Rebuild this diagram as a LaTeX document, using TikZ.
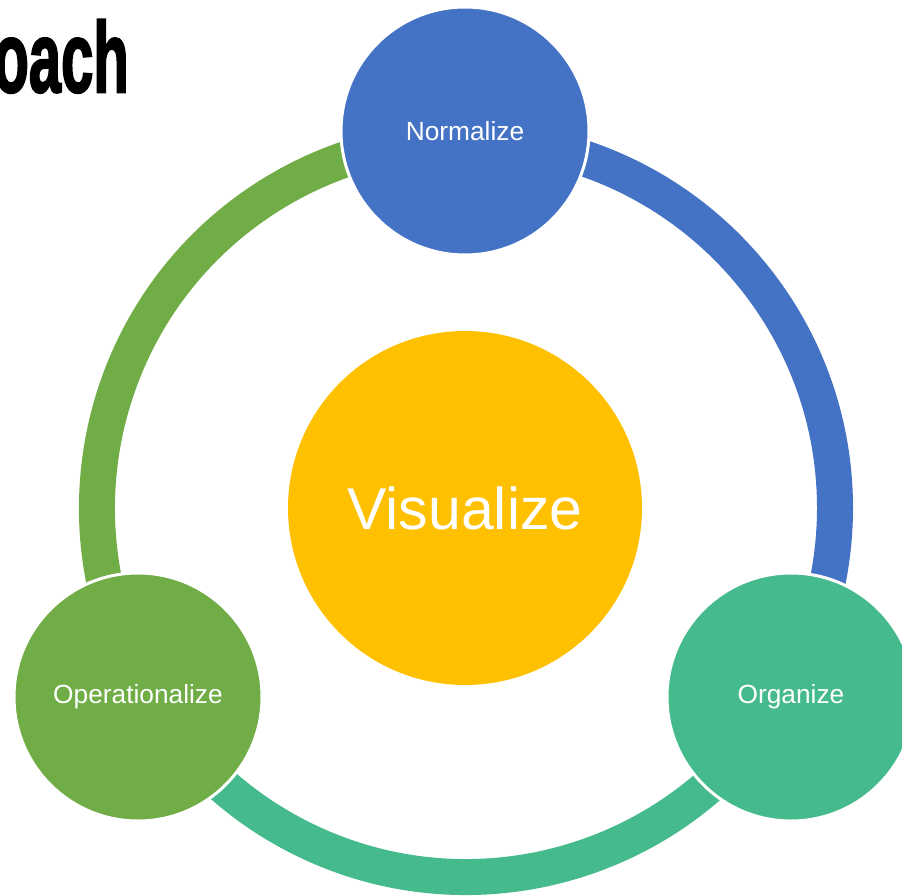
\documentclass[tikz,border=0pt]{standalone}
\usepackage{fontspec}
\setmainfont{Liberation Sans}
\newfontfamily\titlefont[FakeBold=2.5]{Liberation Sans Bold}
\definecolor{cblue}{HTML}{4472C4}
\definecolor{cteal}{HTML}{45BA8C}
\definecolor{cgreen}{HTML}{70AD47}
\definecolor{cgold}{HTML}{FFC000}
\begin{document}
\begin{tikzpicture}[x=1pt,y=1pt,
  ringarc/.style={line width=36pt},
  stepcircle/.style={circle, draw=white, line width=3pt, minimum size=248pt, inner sep=0pt, text=white, font=\fontsize{26.3}{30}\selectfont},
  center/.style={circle, fill=cgold, minimum size=354pt, inner sep=0pt, text=white, font=\fontsize{59}{68}\selectfont}]
\path[use as bounding box] (0,0) rectangle (902,-896);
\clip (0,0) rectangle (902,-896);
\coordinate (c) at (466,-508);
% ring arcs
\draw[ringarc, cblue] ([shift={(90:369)}]c) arc[start angle=90, end angle=-30, radius=369];
\draw[ringarc, cteal] ([shift={(-30:369)}]c) arc[start angle=-30, end angle=-150, radius=369];
\draw[ringarc, cgreen] ([shift={(210:369)}]c) arc[start angle=210, end angle=90, radius=369];
% step circles
\node[stepcircle, fill=cblue] (norm) at (465,-131) {Normalize};
\node[stepcircle, fill=cteal] (org) at (791,-697) {Organize};
\node[stepcircle, fill=cgreen] (oper) at (138,-697) {Operationalize};
% center
\node[center] (vis) at (465,-508) {Visualize};
% title
\node[anchor=base east, inner sep=0pt, font=\fontsize{100}{110}\titlefont] (title) at (129,-92) {\scalebox{0.58}[1]{Approach}};
\end{tikzpicture}
\end{document}
